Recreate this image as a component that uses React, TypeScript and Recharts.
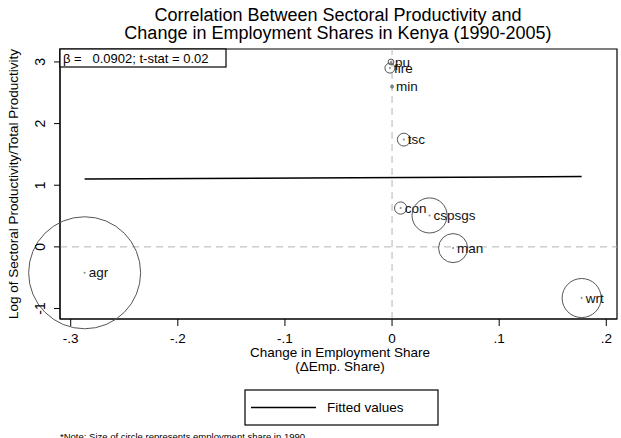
import React from 'react';
import { ComposedChart, Scatter, Line, XAxis, YAxis, ZAxis, ReferenceLine, ReferenceArea } from 'recharts';

// sector codes, change in employment share 1990-2005, log relative productivity, employment share in 1990
const sectors = ['agr', 'min', 'man', 'pu', 'con', 'wrt', 'tsc', 'fire', 'cspsgs'];
const empShareChange = [-0.287, 0.0, 0.057, -0.001, 0.008, 0.177, 0.011, -0.002, 0.035];
const logRelProd = [-0.42, 2.6, -0.02, 3.0, 0.63, -0.83, 1.74, 2.9, 0.51];
const empShare1990 = [0.756, 0.0005, 0.051, 0.002, 0.009, 0.092, 0.01, 0.006, 0.074];

// fitted values
const fitX = [-0.287, 0.177];
const fitY = [1.1, 1.14];

const xTicks = [-0.3, -0.2, -0.1, 0, 0.1, 0.2];
const yTicks = [-1, 0, 1, 2, 3];

const FONT = '"Liberation Sans", Arial, Helvetica, sans-serif';
const X_DOMAIN = [-0.31, 0.21];
const Y_DOMAIN = [-1.17, 3.21];

const points = sectors.map((name, i) => ({ name, x: empShareChange[i], y: logRelProd[i], share: empShare1990[i] }));
const fitted = fitX.map((x, i) => ({ x, y: fitY[i] }));

// stata style: -.3, 0, .1
const fmt = (v: number) => {
  if (v === 0) return '0';
  const s = String(Math.abs(Number(v.toFixed(2)))).replace(/^0/, '');
  return (v < 0 ? '-' : '') + s;
};

const Bubble = (props: any) => {
  const { cx, cy, width, payload } = props;
  if (typeof cx !== 'number' || typeof cy !== 'number') return null;
  const r = Math.max((width || 0) / 2, 1.2);
  return (
    <g>
      <circle cx={cx} cy={cy} r={r} fill="none" stroke="#555" strokeWidth={1} />
      <circle cx={cx} cy={cy} r={1} fill="#8a8a8a" />
      <text x={cx + 4} y={cy} dy="0.35em" fontSize={13.5} fill="#111" fontFamily={FONT}>
        {payload.name}
      </text>
    </g>
  );
};

const YTick = (props: any) => {
  const { y, payload } = props;
  return (
    <text
      x={40}
      y={y}
      dy="0.35em"
      textAnchor="middle"
      fontSize={14}
      fill="#000"
      fontFamily={FONT}
      transform={`rotate(-90, 40, ${y})`}
    >
      {payload.value}
    </text>
  );
};

const App: React.FC = () => {
  return (
    <div style={{ position: 'absolute', left: 0, top: 0, width: 621, height: 438, background: '#fff', fontFamily: FONT }}>
      <ComposedChart width={621} height={438} margin={{ top: 49, right: 4, bottom: 0, left: 0 }}>
        <XAxis
          type="number"
          dataKey="x"
          domain={X_DOMAIN}
          ticks={xTicks}
          tickFormatter={fmt}
          height={119}
          tickSize={7}
          tickMargin={7}
          stroke="#000"
          tick={{ fill: '#000', fontSize: 13.5, fontFamily: FONT }}
        />
        <YAxis
          type="number"
          dataKey="y"
          domain={Y_DOMAIN}
          ticks={yTicks}
          width={60}
          tickSize={6}
          stroke="#000"
          tick={<YTick />}
        />
        <ZAxis type="number" dataKey="share" domain={[0, 0.756]} range={[0, Math.PI * 56 * 56]} />
        <ReferenceLine x={0} stroke="#b4b4b4" strokeDasharray="7 5" />
        <ReferenceLine y={0} stroke="#b4b4b4" strokeDasharray="7 5" />
        <ReferenceArea x1={X_DOMAIN[0]} x2={X_DOMAIN[1]} y1={Y_DOMAIN[0]} y2={Y_DOMAIN[1]} fill="none" fillOpacity={0} stroke="#000" strokeWidth={1.2} />
        <Line data={fitted} dataKey="y" stroke="#000" strokeWidth={1.5} dot={false} isAnimationActive={false} legendType="line" name="Fitted values" />
        <Scatter data={points} shape={<Bubble />} isAnimationActive={false} />
      </ComposedChart>

      <svg width={621} height={438} style={{ position: 'absolute', left: 0, top: 0, pointerEvents: 'none' }} fontFamily={FONT}>
        <text x={338} y={21} textAnchor="middle" fontSize={18} fill="#000">
          Correlation Between Sectoral Productivity and
        </text>
        <text x={338} y={39} textAnchor="middle" fontSize={18} fill="#000">
          Change in Employment Shares in Kenya (1990-2005)
        </text>

        <rect x={60} y={49} width={166} height={18} fill="#fff" stroke="#000" strokeWidth={1.2} />
        <text x={63} y={63} fontSize={13} fill="#000" style={{ whiteSpace: 'pre' }}>
          {'β =   0.0902; t-stat = 0.02'}
        </text>

        <text x={18} y={184} textAnchor="middle" fontSize={13.5} fill="#000" transform="rotate(-90, 18, 184)">
          Log of Sectoral Productivity/Total Productivity
        </text>
        <text x={340} y={357} textAnchor="middle" fontSize={13.5} fill="#000">
          Change in Employment Share
        </text>
        <text x={340} y={371} textAnchor="middle" fontSize={13.5} fill="#000">
          (ΔEmp. Share)
        </text>

        <rect x={245} y={390} width={193} height={35} fill="#fff" stroke="#000" strokeWidth={1.2} />
        <line x1={251} y1={407.5} x2={316} y2={407.5} stroke="#000" strokeWidth={1.5} />
        <text x={327} y={412} fontSize={13.5} fill="#000">
          Fitted values
        </text>

        <text x={60} y={440} fontSize={9.5} fill="#000">
          *Note: Size of circle represents employment share in 1990
        </text>
      </svg>
    </div>
  );
};

export default App;
